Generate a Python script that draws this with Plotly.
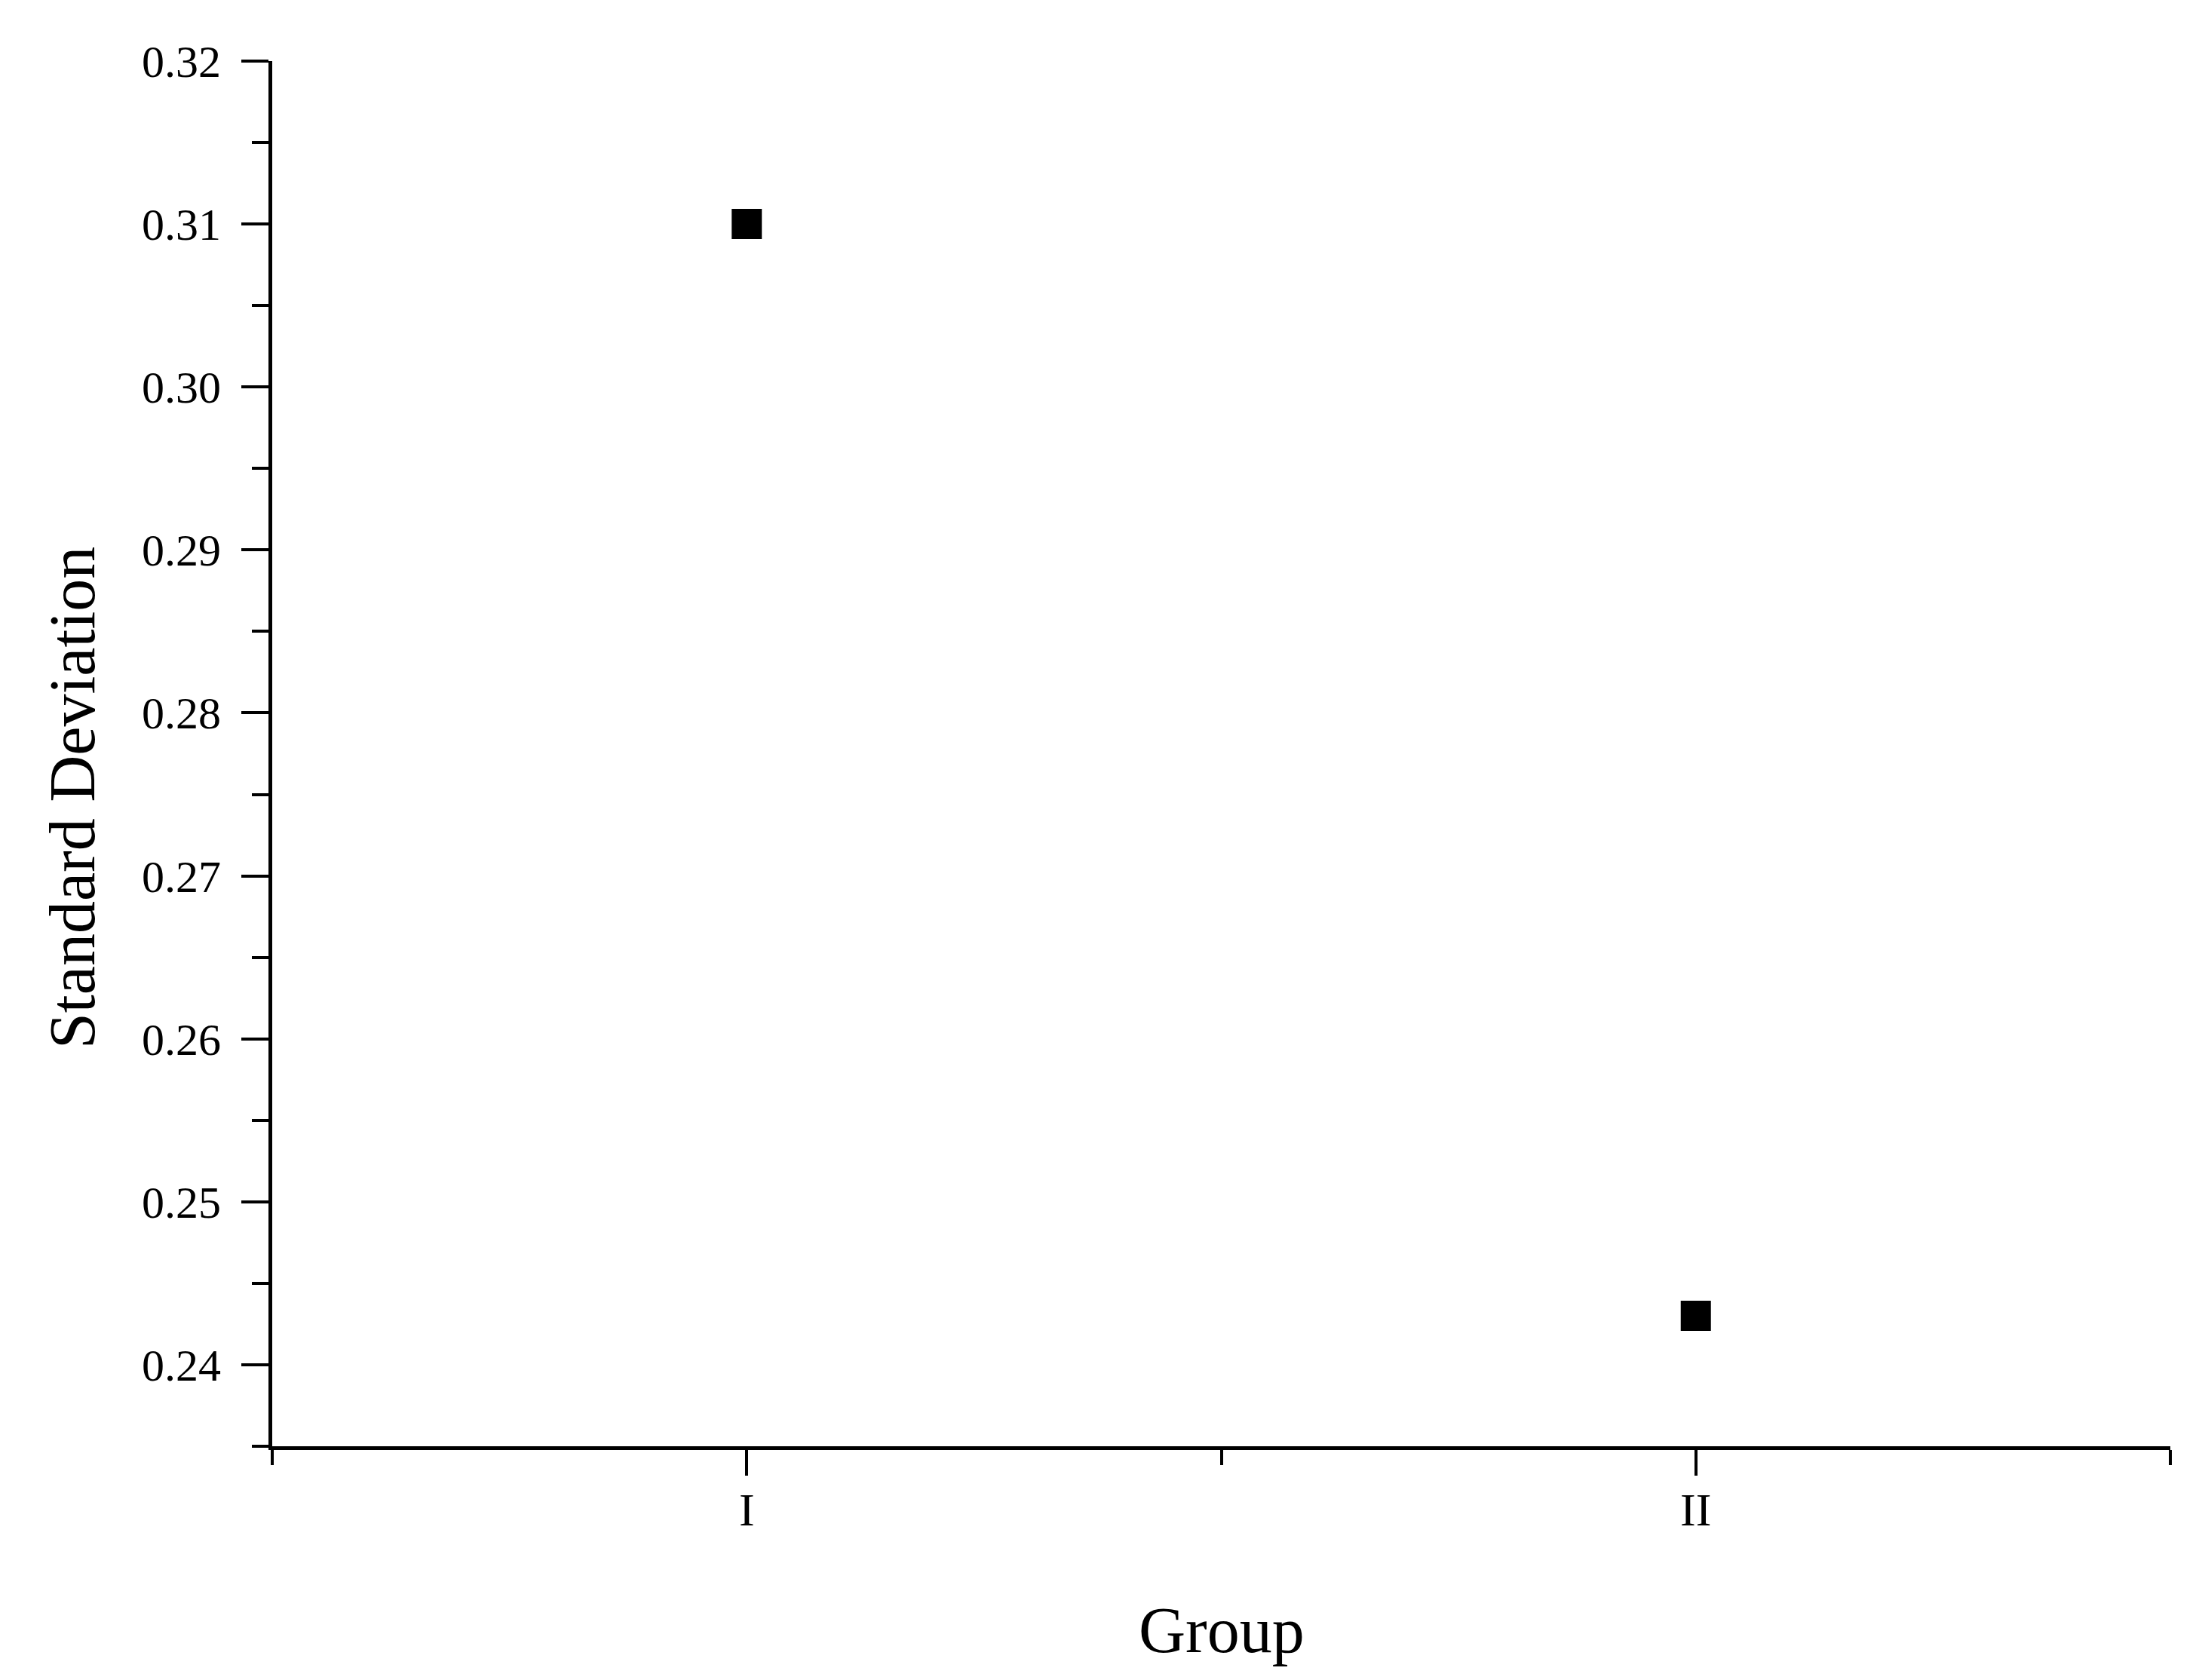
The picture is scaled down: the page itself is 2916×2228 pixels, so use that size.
import plotly.graph_objects as go

groups = ["I", "II"]
std_dev = [0.310, 0.243]

y_ticks = [0.24, 0.25, 0.26, 0.27, 0.28, 0.29, 0.30, 0.31, 0.32]
x_pos = list(range(1, len(groups) + 1))

FONT = "Liberation Serif, Times New Roman, serif"

fig = go.Figure()
fig.add_trace(go.Scatter(
    x=x_pos, y=std_dev, mode="markers",
    marker=dict(symbol="square", size=40, color="black", line=dict(width=0)),
    showlegend=False,
))

fig.update_layout(
    width=2916, height=2228,
    margin=dict(l=353, r=46, t=73, b=318),
    paper_bgcolor="white", plot_bgcolor="white",
    font=dict(family=FONT, color="black"),
    xaxis=dict(
        range=[0.5, 2.5], tickvals=x_pos, ticktext=groups,
        showgrid=False, zeroline=False,
        showline=True, linecolor="black", linewidth=5,
        ticks="outside", ticklen=34, tickwidth=4, tickcolor="black",
        tickfont=dict(size=62, family=FONT), ticklabelstandoff=-8,
        minor=dict(dtick=0.5, tick0=0.5, ticks="outside", ticklen=20, tickwidth=4, tickcolor="black"),
    ),
    yaxis=dict(
        range=[0.235, 0.32], tickvals=y_ticks, tickformat=".2f",
        showgrid=False, zeroline=False,
        showline=True, linecolor="black", linewidth=5,
        ticks="outside", ticklen=36, tickwidth=4, tickcolor="black",
        tickfont=dict(size=60, family=FONT), ticklabelstandoff=15,
        minor=dict(dtick=0.005, tick0=0.235, ticks="outside", ticklen=22, tickwidth=4, tickcolor="black"),
    ),
    annotations=[
        dict(text="Group", xref="paper", yref="paper", x=0.5, y=-0.1327,
             xanchor="center", yanchor="middle", showarrow=False,
             font=dict(size=86, family=FONT, color="black")),
        dict(text="Standard Deviation", xref="paper", yref="paper", x=-0.105, y=0.468,
             xanchor="center", yanchor="middle", showarrow=False, textangle=-90,
             font=dict(size=86, family=FONT, color="black")),
    ],
)

fig.write_html("out.html")
